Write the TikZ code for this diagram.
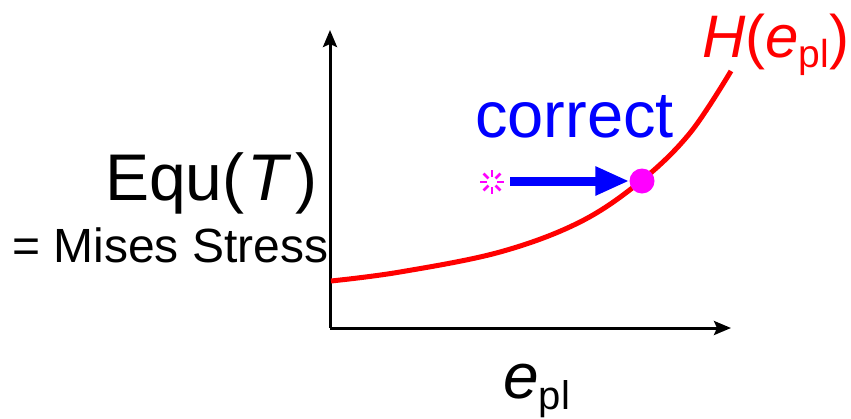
\documentclass[tikz,border=0pt]{standalone}
\usepackage{fontspec}
\setmainfont{Liberation Sans}
\usetikzlibrary{arrows.meta,calc}
\definecolor{mag}{RGB}{255,0,255}
\tikzset{
  axis/.style={line width=3pt,-{Stealth[length=17pt,width=14pt,inset=3pt]}},
  hcurve/.style={red,line width=5pt},
  lbl/.style={inner sep=0pt,anchor=base west},
}
\begin{document}
\begin{tikzpicture}[x=1pt,y=-1pt]
\useasboundingbox (0,0) rectangle (851,418);
% axes
\coordinate (O) at (330,328);
\coordinate (ytop) at (330,30);
\coordinate (xend) at (731,328);
\draw[axis] (O) -- (ytop);
\draw[axis] (O) -- (xend);
% curve
\draw[hcurve] plot[smooth,tension=0.6] coordinates {(331,281) (400,272) (500,252) (580,222) (641,181) (690,133) (731,71)};
% dot and star
\node[circle,fill=mag,minimum size=25pt,inner sep=0pt] (dot) at (642,181) {};
\coordinate (star) at (492,182);
\foreach \a in {0,45,...,315}
  \draw[mag,line width=2.5pt] ($(star)+(\a:5pt)$) -- ($(star)+(\a:12pt)$);
% arrow
\coordinate (astart) at (510,181);
\draw[blue,line width=9pt,-{Triangle[length=34pt,width=27pt]}] (astart) -- (dot.west);
% texts
\node[lbl,blue,font=\fontsize{65}{65}\selectfont] (corr) at (475,137) {correct};
\node[lbl,font=\fontsize{66}{66}\selectfont] (equ) at (105,200) {Equ(\kern3pt\textit{T}\kern4pt)};
\node[lbl,font=\fontsize{48}{48}\selectfont] (mises) at (12,262) {= Mises Stress};
\node[lbl,font=\fontsize{64}{64}\selectfont] (epl) at (503,398) {\textit{e}\raisebox{-11pt}{\fontsize{40}{40}\selectfont pl}};
\node[lbl,red,font=\fontsize{60}{60}\selectfont] (H) at (702,57) {\textit{H}(\textit{e}\raisebox{-10pt}{\fontsize{39}{39}\selectfont pl})};
\end{tikzpicture}
\end{document}
